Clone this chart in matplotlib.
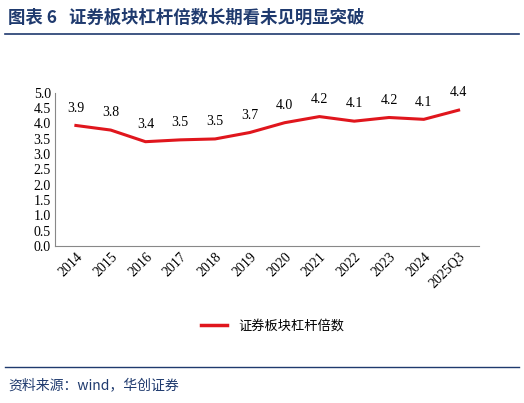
import matplotlib
matplotlib.use("Agg")
import matplotlib.pyplot as plt
from matplotlib.lines import Line2D

plt.rcParams['font.family'] = ['Noto Sans CJK SC', 'DejaVu Sans']

years = ["2014","2015","2016","2017","2018","2019","2020","2021","2022","2023","2024","2025Q3"]
values = [3.93,3.78,3.40,3.46,3.49,3.70,4.02,4.22,4.07,4.19,4.13,4.43]

fig = plt.figure(figsize=(5.24,4.03), dpi=100)
ax = fig.add_axes([0.105, 0.39, 0.81, 0.38])
x = range(len(years))
ax.plot(x, values, color='#E0161D', lw=2.2)
for i, v in enumerate(values):
    ax.text(i, v + 0.35, f"{v:.1f}", ha='center', va='bottom', fontsize=10, family=['Liberation Serif'])
ax.set_ylim(0, 5)
ax.set_yticks([i*0.5 for i in range(11)])
ax.set_yticklabels([f"{i*0.5:.1f}" for i in range(11)], fontsize=10, family=['Liberation Serif'])
ax.set_xlim(-0.6, len(years)-0.4)
ax.set_xticks(list(x))
ax.set_xticklabels(years, rotation=45, ha='right', rotation_mode='anchor', fontsize=10, family=['Liberation Serif'])
for s in ['top','right']:
    ax.spines[s].set_visible(False)
ax.spines['left'].set_color('#888888')
ax.spines['bottom'].set_color('#888888')
ax.tick_params(length=0, pad=3)

fig.legend(handles=[Line2D([],[],color='#E0161D',lw=2.5)], labels=['证券板块杠杆倍数'],
           loc='center', bbox_to_anchor=(0.52, 0.19), frameon=False, fontsize=9.5)

fig.text(0.015, 0.955, "图表 6   证券板块杠杆倍数长期看未见明显突破", fontsize=12.5, weight='bold', color='#1F3A6E', va='center')
fig.add_artist(Line2D([0.01,0.99],[0.915,0.915], color='#1F3A6E', lw=1.2))
fig.add_artist(Line2D([0.01,0.99],[0.09,0.09], color='#1F3A6E', lw=1.0))
fig.text(0.015, 0.045, "资料来源：wind，华创证券", fontsize=10, style='italic', color='#1F3A6E', va='center')

fig.savefig("out.png", dpi=100)
